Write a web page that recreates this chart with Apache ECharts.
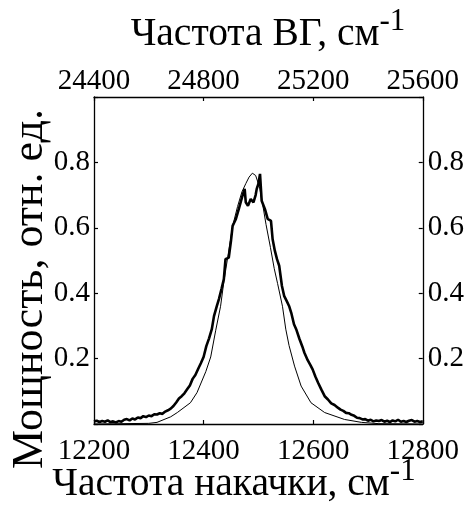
<!DOCTYPE html>
<html><head><meta charset="utf-8">
<script src="https://cdn.jsdelivr.net/npm/echarts@6/dist/echarts.min.js"></script>
<style>html,body{margin:0;padding:0;background:#fff}#c{width:467px;height:510px}</style>
</head><body><div id="c"></div>
<script>
var bottomTicks = [12200, 12400, 12600, 12800];
var topTicks = [24400, 24800, 25200, 25600];
var yTicks = [0.2, 0.4, 0.6, 0.8];

var thinX = [12200,12300,12315,12340,12352,12376,12388,12404,12413,12422,12431,12437,12445,12453,12462,12470,12477,12483,12489,12495,12502,12508,12514,12522,12529,12535,12544,12550,12556,12566,12578,12596,12621,12657,12688,12720,12800];
var thinY = [0,0.002,0.005,0.022,0.035,0.065,0.096,0.16,0.205,0.285,0.36,0.435,0.52,0.605,0.665,0.71,0.735,0.755,0.767,0.76,0.725,0.67,0.61,0.54,0.475,0.43,0.36,0.29,0.24,0.177,0.116,0.065,0.035,0.014,0.005,0.001,0];

var thickX = [12200,12205,12210,12215,12220,12225,12230,12235,12240,12245,12250,12255,12260,12265,12270,12275,12280,12285,12290,12295,12300,12305,12310,12315,12320,12325,12330,12335,12340,12345,12350,12355,12360,12365,12370,12375,12380,12385,12390,12395,12400,12405,12410,12415,12419,12424,12428,12433,12437,12440,12446,12450,12453,12459,12465,12471,12475,12477,12481,12486,12491,12495,12497,12500,12503,12506,12512,12517,12523,12526,12530,12534,12538,12543,12547,12552,12556,12560,12565,12569,12575,12580,12584,12590,12595,12599,12604,12609,12615,12621,12627,12633,12639,12645,12650,12655,12660,12665,12670,12675,12680,12685,12690,12695,12700,12705,12710,12715,12720,12725,12730,12735,12740,12745,12750,12755,12760,12765,12770,12775,12780,12785,12790,12795,12800];
var thickY = [0.008,0.010,0.006,0.009,0.007,0.011,0.006,0.008,0.005,0.009,0.007,0.013,0.015,0.011,0.017,0.014,0.020,0.018,0.024,0.021,0.026,0.024,0.030,0.029,0.033,0.031,0.038,0.042,0.047,0.055,0.066,0.078,0.085,0.094,0.106,0.118,0.138,0.150,0.168,0.186,0.205,0.238,0.262,0.290,0.330,0.360,0.382,0.415,0.443,0.504,0.509,0.560,0.606,0.627,0.662,0.698,0.719,0.678,0.667,0.688,0.678,0.700,0.719,0.734,0.765,0.683,0.657,0.627,0.621,0.565,0.530,0.504,0.484,0.422,0.392,0.375,0.361,0.340,0.305,0.290,0.260,0.238,0.218,0.195,0.180,0.167,0.145,0.126,0.105,0.085,0.075,0.063,0.058,0.050,0.044,0.040,0.034,0.033,0.028,0.025,0.019,0.018,0.014,0.015,0.010,0.013,0.008,0.011,0.009,0.012,0.007,0.010,0.006,0.011,0.008,0.013,0.007,0.009,0.006,0.010,0.012,0.007,0.009,0.006,0.008];

var FONT = '"Liberation Serif", "Times New Roman", serif';
function pairs(xs, ys){ return xs.map(function(x,i){ return [x, ys[i]]; }); }
function titleRich(size){
  return {
    a: {fontSize: size, fontFamily: FONT, color: '#000', lineHeight: 57, verticalAlign: 'middle'},
    s: {fontSize: 31, fontFamily: FONT, color: '#000', lineHeight: 30, verticalAlign: 'top'}
  };
}
function yFmt(v){ return yTicks.some(function(t){return Math.abs(t-v)<1e-6;}) ? v.toFixed(1) : ''; }
function xFmt(v){ return String(Math.round(v)); }
var axisLine = {show: true, onZero: false, lineStyle: {color: '#000', width: 1.3}};
var tick = {show: true, inside: true, length: 4, lineStyle: {color: '#000', width: 1.2}};
var lbl = {color: '#000', fontFamily: FONT, fontSize: 29};

var chart = echarts.init(document.getElementById('c'), null, {renderer: 'canvas'});
chart.setOption({
  animation: false,
  backgroundColor: '#fff',
  grid: {left: 94, right: 44, top: 97, bottom: 86, containLabel: false},
  xAxis: [
    {type: 'value', position: 'bottom', min: bottomTicks[0], max: bottomTicks[bottomTicks.length-1], interval: bottomTicks[1]-bottomTicks[0],
     axisLine: axisLine, axisTick: tick, splitLine: {show: false},
     axisLabel: Object.assign({margin: 13, formatter: xFmt}, lbl)},
    {type: 'value', position: 'top', min: topTicks[0], max: topTicks[topTicks.length-1], interval: topTicks[1]-topTicks[0],
     axisLine: axisLine, axisTick: tick, splitLine: {show: false},
     axisLabel: Object.assign({margin: 1, formatter: xFmt}, lbl)}
  ],
  yAxis: [
    {type: 'value', position: 'left', min: 0, max: 1, interval: 0.2,
     axisLine: axisLine, axisTick: tick, splitLine: {show: false},
     axisLabel: Object.assign({margin: 4, formatter: yFmt}, lbl)},
    {type: 'value', position: 'right', min: 0, max: 1, interval: 0.2,
     axisLine: axisLine, axisTick: tick, splitLine: {show: false},
     axisLabel: Object.assign({margin: 5, formatter: yFmt}, lbl)}
  ],
  series: [
    {type: 'line', xAxisIndex: 0, yAxisIndex: 0, data: pairs(thinX, thinY), showSymbol: false, symbol: 'none',
     lineStyle: {color: '#000', width: 1}, z: 3},
    {type: 'line', xAxisIndex: 0, yAxisIndex: 0, data: pairs(thickX, thickY), showSymbol: false, symbol: 'none',
     lineStyle: {color: '#000', width: 2.6}, z: 2}
  ],
  graphic: [
    {type: 'text', x: 268, y: 35, style: {text: '{a|Частота ВГ, см}{s|-1}', rich: titleRich(39.5), textAlign: 'center', textVerticalAlign: 'middle'}},
    {type: 'text', x: 234, y: 485, style: {text: '{a|Частота накачки, см}{s|-1}', rich: titleRich(39.5), textAlign: 'center', textVerticalAlign: 'middle'}},
    {type: 'text', x: 30, y: 289, rotation: Math.PI/2, style: {text: 'Мощность, отн. ед.', font: '44px ' + FONT, fill: '#000', textAlign: 'center', textVerticalAlign: 'middle'}}
  ]
});
</script></body></html>
